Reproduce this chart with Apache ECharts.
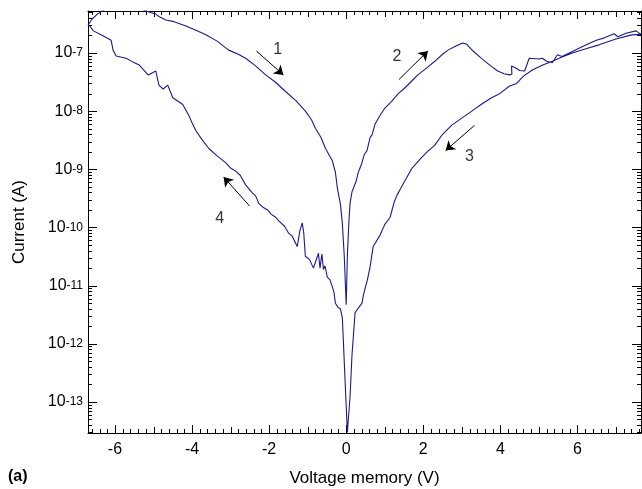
<!DOCTYPE html>
<html>
<head>
<meta charset="utf-8">
<script src="https://cdn.jsdelivr.net/npm/echarts@6/dist/echarts.min.js"></script>
<style>
  html, body { margin: 0; padding: 0; background: #fff; }
  #chart { width: 642px; height: 489px; }
</style>
</head>
<body>
<div id="chart"></div>
<script>
// voltage sweep, in measurement order: 1 (-6.7 -> 0), 2 (0 -> 7.6), 3 (7.6 -> 0), 4 (0 -> -6.7)
const voltage = [
  -6.70, -6.60, -6.45, -6.20, -5.70, -5.25, -5.06, -4.95, -4.85, -4.68,
  -4.50, -4.16, -3.90, -3.64, -3.35, -3.05, -2.80, -2.61, -2.35, -2.09,
  -1.85, -1.58, -1.30, -1.06, -0.90, -0.80, -0.65, -0.54, -0.45, -0.36,
  -0.28, -0.23, -0.15, -0.10, -0.05, -0.02, 0.00,
  0.03, 0.07, 0.10, 0.15, 0.20, 0.26, 0.31, 0.36, 0.41, 0.47,
  0.54, 0.62, 0.67, 0.75, 0.88, 1.00, 1.19, 1.35, 1.52, 1.70,
  1.86, 2.10, 2.30, 2.50, 2.64, 2.85, 3.02, 3.13, 3.30, 3.51,
  3.75, 3.93, 4.10, 4.24, 4.30, 4.29, 4.40, 4.50, 4.63, 4.70,
  4.75, 5.00, 5.09, 5.20, 5.35, 5.48, 5.60, 5.79, 6.00, 6.23,
  6.49, 6.70, 6.95, 7.05, 7.26, 7.52, 7.65,
  7.41, 7.00, 6.56, 6.20, 5.87, 5.60, 5.35, 5.10, 4.83, 4.60,
  4.42, 4.24, 3.98, 3.77, 3.50, 3.26, 3.00, 2.74, 2.50, 2.30,
  2.10, 1.96, 1.71, 1.52, 1.40, 1.32, 1.25, 1.14, 1.00, 0.88,
  0.70, 0.62, 0.55, 0.45, 0.41, 0.30, 0.23, 0.15, 0.10, 0.03,
  -0.10, -0.15, -0.21, -0.28, -0.32, -0.36, -0.42, -0.49, -0.55,
  -0.59, -0.63, -0.68, -0.72, -0.80, -0.85, -0.95, -1.06, -1.10, -1.14,
  -1.20, -1.27, -1.40, -1.50, -1.60, -1.65, -1.75, -1.83, -1.95, -2.04,
  -2.15, -2.27, -2.35, -2.43, -2.61, -2.75, -2.87, -3.00, -3.13, -3.35,
  -3.57, -3.75, -3.90, -4.00, -4.08, -4.24, -4.50, -4.63, -4.75, -4.86,
  -4.94, -5.14, -5.37, -5.55, -5.71, -5.97, -6.05, -6.10, -6.36, -6.56,
  -6.67
];

const current = [
  3.0e-7, 3.8e-7, 4.7e-7, 6.0e-7, 6.6e-7, 5.5e-7, 4.9e-7, 4.7e-7, 4.2e-7, 3.7e-7,
  3.5e-7, 2.9e-7, 2.45e-7, 2.05e-7, 1.6e-7, 1.12e-7, 9.5e-8, 8.1e-8, 6.0e-8, 4.2e-8,
  3.2e-8, 2.2e-8, 1.5e-8, 1.0e-8, 7.1e-9, 5.1e-9, 3.5e-9, 2.3e-9, 1.8e-9, 1.4e-9,
  8.9e-10, 4.8e-10, 2.5e-10, 1.2e-10, 3.2e-11, 1.0e-11, 4.7e-12,
  3.2e-11, 1.26e-10, 2.6e-10, 4.1e-10, 4.0e-10, 6.3e-10, 8.7e-10, 8.9e-10, 1.3e-9, 1.8e-9,
  2.1e-9, 3.5e-9, 3.9e-9, 6.0e-9, 8.5e-9, 1.12e-8, 1.5e-8, 2.0e-8, 2.5e-8, 3.3e-8,
  4.2e-8, 5.6e-8, 7.2e-8, 9.5e-8, 1.12e-7, 1.32e-7, 1.48e-7, 1.41e-7, 1.07e-7, 8.1e-8,
  6.0e-8, 4.9e-8, 4.4e-8, 4.2e-8, 4.3e-8, 6.0e-8, 5.5e-8, 5.0e-8, 4.9e-8, 6.6e-8,
  8.1e-8, 7.9e-8, 8.1e-8, 7.2e-8, 6.8e-8, 9.3e-8, 8.7e-8, 1.0e-7, 1.17e-7, 1.38e-7,
  1.66e-7, 1.82e-7, 2.14e-7, 1.9e-7, 2.19e-7, 2.4e-7, 2.09e-7,
  2.05e-7, 1.74e-7, 1.38e-7, 1.17e-7, 1.0e-7, 8.5e-8, 7.2e-8, 6.2e-8, 5.1e-8, 4.0e-8,
  3.0e-8, 2.7e-8, 2.0e-8, 1.7e-8, 1.3e-8, 1.0e-8, 7.6e-9, 5.75e-9, 4.0e-9, 2.6e-9,
  2.0e-9, 1.6e-9, 1.05e-9, 6.3e-10, 4.5e-10, 3.6e-10, 2.8e-10, 1.5e-10, 1.12e-10, 7.4e-11,
  4.7e-11, 2.1e-11, 1.26e-11, 7.1e-12, 5.0e-12, 4.0e-12, 3.4e-12, 6.3e-13, 1.23e-13, 3.0e-14,
  2.8e-12, 4.0e-12, 4.2e-12, 5.0e-12, 7.9e-12, 8.5e-12, 1.26e-11, 1.4e-11, 2.2e-11,
  1.9e-11, 3.5e-11, 2.0e-11, 3.6e-11, 2.5e-11, 2.0e-11, 2.8e-11, 3.2e-11, 7.9e-11, 1.2e-10,
  8.9e-11, 4.7e-11, 7.1e-11, 8.1e-11, 1.05e-10, 1.02e-10, 1.3e-10, 1.5e-10, 1.7e-10, 2.0e-10,
  2.2e-10, 2.6e-10, 3.5e-10, 3.9e-10, 5.4e-10, 7.9e-10, 9.3e-10, 1.05e-9, 1.3e-9, 1.7e-9,
  2.3e-9, 3.3e-9, 4.6e-9, 6.3e-9, 8.3e-9, 1.3e-8, 1.7e-8, 2.8e-8, 2.4e-8, 2.8e-8,
  4.9e-8, 4.2e-8, 6.2e-8, 7.1e-8, 8.1e-8, 8.9e-8, 1.12e-7, 1.66e-7, 2.05e-7, 2.4e-7,
  3.0e-7
];

// tick labels
const xTicks = [-6, -4, -2, 0, 2, 4, 6];
const yTickExponents = [-13, -12, -11, -10, -9, -8, -7];

// sweep direction arrows: [voltage, current] tail -> head, and number labels
const arrowTails = [[-2.33, 1.08e-7], [1.37, 3.5e-8], [3.33, 5.7e-9], [-2.51, 2.35e-10]];
const arrowHeads = [[-1.63, 4.2e-8], [2.12, 1.08e-7], [2.58, 2.1e-9], [-3.18, 7.4e-10]];
const sweepLabels = ['1', '2', '3', '4'];
const sweepLabelPos = [[-1.78, 1.15e-7], [1.32, 8.5e-8], [3.2, 1.65e-9], [-3.28, 1.45e-10]];

const X_MIN = -6.7, X_MAX = 7.65;
const Y_MIN = 2.93e-14, Y_MAX = 5.27e-7;
const FONT = 'Liberation Sans, Arial, Helvetica, sans-serif';
const LINE_COLOR = '#1a1a90';
const GRID = { left: 88, right: 1, top: 11, bottom: 56 };

const axisLineStyle = { color: '#000', width: 1 };

function frameAxis(type, position, min, max, opts) {
  return Object.assign({
    type: type,
    position: position,
    min: min,
    max: max,
    axisLine: { show: true, onZero: false, lineStyle: axisLineStyle },
    axisTick: { show: false },
    axisLabel: { show: false },
    splitLine: { show: false }
  }, opts || {});
}

const chart = echarts.init(document.getElementById('chart'));

const titleMark = {
  type: 'text',
  left: 8,
  top: 469,
  style: { text: '(a)', fontSize: 16, fontWeight: 'bold', fill: '#000', fontFamily: FONT }
};

chart.setOption({
  animation: false,
  backgroundColor: '#fff',
  grid: Object.assign({ outerBoundsMode: 'none', containLabel: false }, GRID),
  xAxis: [
    frameAxis('value', 'bottom', X_MIN, X_MAX, {
      axisLabel: {
        show: true,
        customValues: xTicks,
        formatter: v => String(v),
        fontSize: 16,
        color: '#000',
        fontFamily: FONT,
        margin: 9
      },
      name: 'Voltage memory (V)',
      nameLocation: 'middle',
      nameGap: 37,
      nameTextStyle: { fontSize: 17, color: '#000', fontFamily: FONT }
    }),
    frameAxis('value', 'top', X_MIN, X_MAX)
  ],
  yAxis: [
    frameAxis('log', 'left', Y_MIN, Y_MAX, {
      logBase: 10,
      axisLabel: {
        show: true,
        customValues: yTickExponents.map(e => Math.pow(10, e)),
        formatter: v => '{b|10}{s|' + Math.round(Math.log10(v)) + '}',
        margin: 5,
        rich: {
          b: { fontSize: 16, color: '#000', fontFamily: FONT, verticalAlign: 'bottom', lineHeight: 16, padding: [6, 0, 0, 0] },
          s: { fontSize: 12, color: '#000', fontFamily: FONT, verticalAlign: 'top', lineHeight: 12, padding: [2, 0, 0, 0] }
        }
      },
      name: 'Current (A)',
      nameLocation: 'middle',
      nameGap: 60,
      nameRotate: 90,
      nameTextStyle: { fontSize: 17, color: '#000', fontFamily: FONT }
    }),
    frameAxis('log', 'right', Y_MIN, Y_MAX, { logBase: 10 })
  ],
  graphic: [titleMark],
  series: [
    {
      type: 'line',
      xAxisIndex: 0,
      yAxisIndex: 0,
      data: voltage.map((v, i) => [v, current[i]]),
      showSymbol: false,
      symbol: 'none',
      clip: true,
      lineStyle: { color: LINE_COLOR, width: 1.1 },
      silent: true
    },
    {
      type: 'scatter',
      xAxisIndex: 0,
      yAxisIndex: 0,
      silent: true,
      symbolSize: 1,
      itemStyle: { color: 'rgba(0,0,0,0)' },
      data: sweepLabelPos.map((p, i) => [p[0], p[1], sweepLabels[i]]),
      label: {
        show: true,
        position: 'inside',
        formatter: p => p.data[2],
        fontSize: 16,
        color: '#000',
        fontFamily: FONT
      },
      markLine: {
        silent: true,
        symbol: ['none', 'arrow'],
        symbolSize: 9,
        label: { show: false },
        lineStyle: { color: '#000', width: 1, type: 'solid' },
        emphasis: { disabled: true },
        data: arrowTails.map((t, i) => [{ coord: t }, { coord: arrowHeads[i] }])
      }
    }
  ]
});

// inward ticks on all four sides, placed through the axes' own scales
const W = 642, H = 489;
const gx0 = GRID.left, gx1 = W - GRID.right, gy0 = GRID.top, gy1 = H - GRID.bottom;
const tickMarks = [];
function tickLine(x1, y1, x2, y2) {
  tickMarks.push({
    type: 'line',
    silent: true,
    shape: { x1: x1, y1: y1, x2: x2, y2: y2 },
    style: { stroke: '#000', lineWidth: 1 }
  });
}
for (let i = -33; i <= 38; i++) {
  const v = i / 5;
  const len = i % 10 === 0 ? 8 : (i % 5 === 0 ? 6 : 4);
  const px = Math.round(chart.convertToPixel({ xAxisIndex: 0 }, v)) + 0.5;
  if (px <= gx0 || px >= gx1) continue;
  tickLine(px, gy1, px, gy1 - len);
  tickLine(px, gy0, px, gy0 + len);
}
for (let e = -14; e <= -7; e++) {
  for (let m = 1; m <= 9; m++) {
    const v = m * Math.pow(10, e);
    if (v <= Y_MIN || v >= Y_MAX) continue;
    const len = m === 1 ? 9 : 4;
    const py = Math.round(chart.convertToPixel({ yAxisIndex: 0 }, v)) + 0.5;
    tickLine(gx0, py, gx0 + len, py);
    tickLine(gx1, py, gx1 - len, py);
  }
}
chart.setOption({ graphic: [titleMark].concat(tickMarks) });
</script>
</body>
</html>
